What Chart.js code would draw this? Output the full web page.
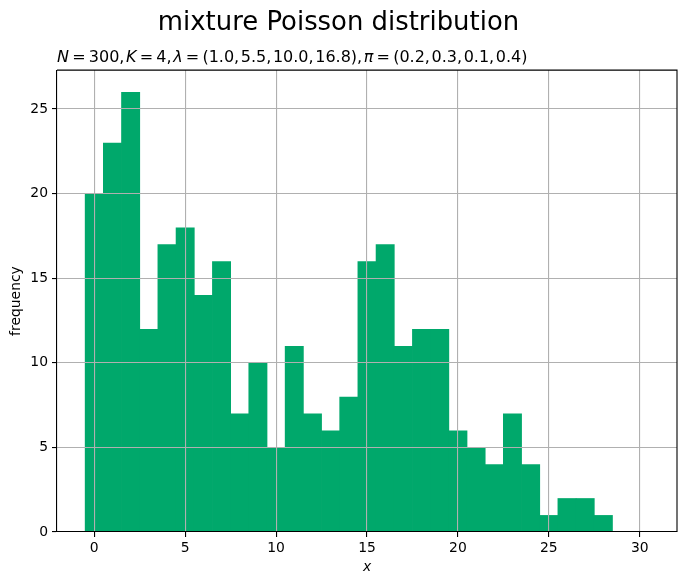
<!DOCTYPE html>
<html>
<head>
<meta charset="utf-8">
<script src="https://cdn.jsdelivr.net/npm/chart.js@4"></script>
<style>
    body { margin: 0; background: white; }
    #box { width: 687px; height: 585px; }
</style>
</head>
<body>
<div id="box"><canvas id="myChart"></canvas></div>
<script>
var valores_x = [0, 1, 2, 3, 4, 5, 6, 7, 8, 9, 10, 11, 12, 13, 14, 15, 16, 17, 18, 19, 20, 21, 22, 23, 24, 25, 26, 27, 28]
var frequencias = [20, 23, 26, 12, 17, 18, 14, 16, 7, 10, 5, 11, 7, 6, 8, 16, 17, 11, 12, 12, 6, 5, 4, 7, 4, 1, 2, 2, 1]
var ticks_x = [0, 5, 10, 15, 20, 25, 30]
var ticks_y = [0, 5, 10, 15, 20, 25]
var titulo = 'mixture Poisson distribution'
// pedaços do subtitulo: [texto, italico?]  (espaço fino em volta do "=", espaço mínimo depois da vírgula)
var subtitulo = [
    ['N', true], ['\u2009=\u2009300,\u200a', false], ['K', true], ['\u2009=\u20094,\u200a', false],
    ['λ', true], ['\u2009=\u2009(1.0,\u200a5.5,\u200a10.0,\u200a16.8),\u200a', false],
    ['π', true], ['\u2009=\u2009(0.2,\u200a0.3,\u200a0.1,\u200a0.4)', false]
]

var fonte = 'DejaVu Sans'

var pontos = []
for (let i = 0; i < valores_x.length; i++) {
    pontos.push({ x: valores_x[i], y: frequencias[i] })
}

var molduraPlugin = {// borda de cima e da direita + subtitulo
    id: 'moldura',
    afterDraw(chart) {
        var ctx = chart.ctx
        var a = chart.chartArea
        ctx.save()
        ctx.strokeStyle = 'black'
        ctx.lineWidth = 1.1
        ctx.beginPath()
        ctx.moveTo(a.left, a.top)
        ctx.lineTo(a.right, a.top)
        ctx.lineTo(a.right, a.bottom)
        ctx.stroke()

        ctx.fillStyle = 'black'
        ctx.textBaseline = 'alphabetic'
        var x = a.left
        for (let i = 0; i < subtitulo.length; i++) {
            ctx.font = (subtitulo[i][1] ? 'italic ' : '') + '16px "' + fonte + '"'
            ctx.fillText(subtitulo[i][0], x, 62)
            x += ctx.measureText(subtitulo[i][0]).width
        }
        ctx.restore()
    }
}

const ctx = document.getElementById('myChart').getContext('2d');
var myChart = new Chart(ctx, {
    type: 'bar',
    data: {
        datasets: [{
            label: 'frequency',
            data: pontos,
            backgroundColor: '#00a86b',
            borderWidth: 0,
            barPercentage: 1.04,
            categoryPercentage: 1
        }]
    },
    options: {
        responsive: true,
        maintainAspectRatio: false,
        animation: false,
        layout: { padding: { left: 0, right: 10, top: 0, bottom: 0 } },
        scales: {
            x: {
                type: 'linear',
                offset: false,
                min: -2.05,
                max: 32.05,
                afterBuildTicks: (s) => { s.ticks = ticks_x.map(v => ({ value: v })) },
                afterFit: (s) => { s.height = 53 },
                grid: { offset: false, color: '#b0b0b0', lineWidth: 1.1, z: 1, tickColor: 'black', tickLength: 5 },
                border: { color: 'black', width: 1.1, z: 2 },
                ticks: { color: 'black', font: { family: fonte, size: 13.9 }, padding: 3, maxRotation: 0 },
                title: { display: true, text: 'x', color: 'black', font: { family: fonte, size: 13.9, style: 'italic' }, padding: { top: 0, bottom: 9 } }
            },
            y: {
                min: 0,
                max: 27.3,
                afterBuildTicks: (s) => { s.ticks = ticks_y.map(v => ({ value: v })) },
                afterFit: (s) => { s.width = 57 },
                grid: { color: '#b0b0b0', lineWidth: 1.1, z: 1, tickColor: 'black', tickLength: 5 },
                border: { color: 'black', width: 1.1, z: 2 },
                ticks: { color: 'black', font: { family: fonte, size: 13.9 }, padding: 4 },
                title: { display: true, text: 'frequency', color: 'black', font: { family: fonte, size: 13.9 }, padding: { top: 8, bottom: 0 } }
            }
        },
        plugins: {
            legend: { display: false },
            tooltip: { enabled: false },
            title: {
                display: true,
                text: titulo,
                color: 'black',
                font: { family: fonte, size: 25.9, weight: 'normal' },
                padding: { top: 8, bottom: 31 }
            }
        }
    },
    plugins: [molduraPlugin]
});
</script>
</body>
</html>
